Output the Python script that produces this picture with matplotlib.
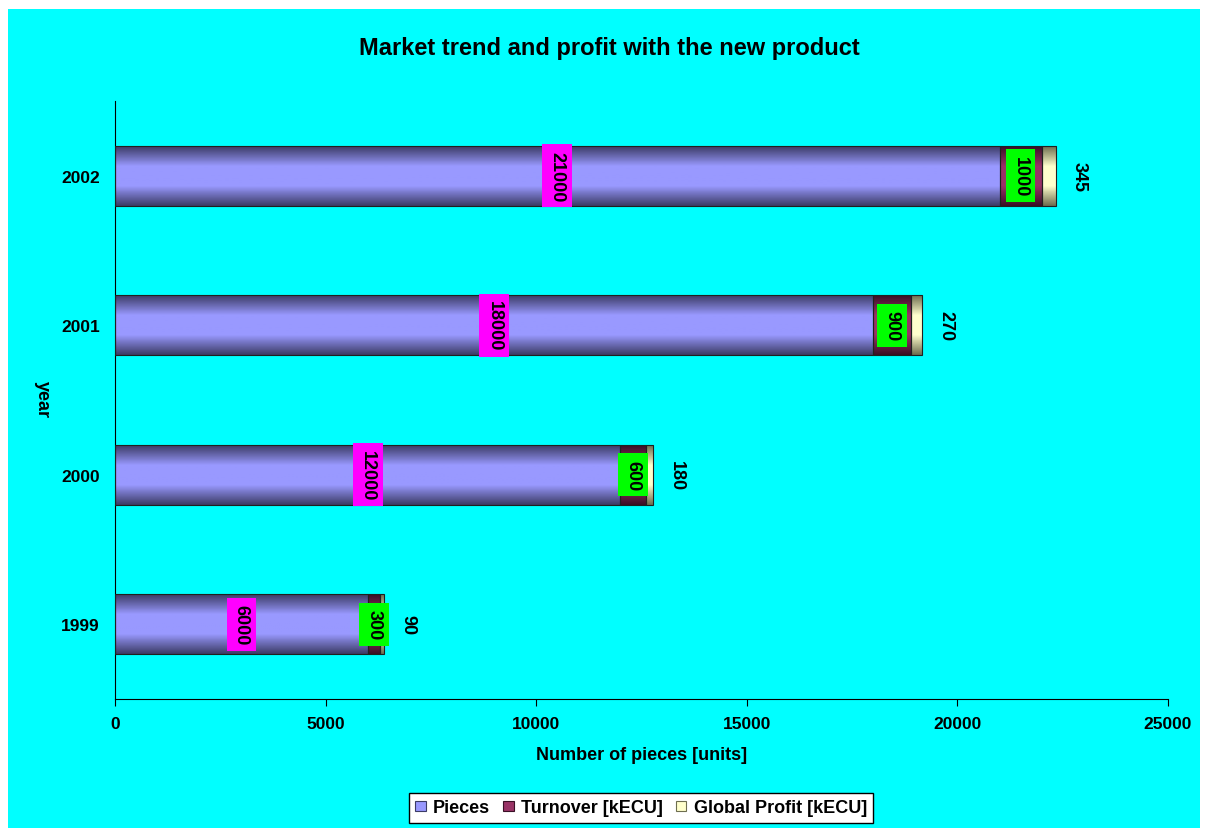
import numpy as np
import matplotlib.pyplot as plt
from matplotlib.colors import LinearSegmentedColormap
from matplotlib.patches import Rectangle

plt.rcParams['font.family'] = ['Liberation Sans', 'DejaVu Sans']

years = ["1999", "2000", "2001", "2002"]
pieces = [6000, 12000, 18000, 21000]
turnover = [300, 600, 900, 1000]
profit = [90, 180, 270, 345]

series = ["Pieces", "Turnover [kECU]", "Global Profit [kECU]"]
colors = ["#9999FF", "#993366", "#FFFFCC"]
dark = ["#3c3c66", "#3a1026", "#6e6e50"]

bar_h = 0.4
cyan = "#00FFFF"

fig = plt.figure(figsize=(12.07, 8.29), dpi=100)
fig.patch.set_facecolor("white")
fig.patches.append(Rectangle((8 / 1207, 0), 1192 / 1207, 819 / 829, transform=fig.transFigure,
                             facecolor=cyan, edgecolor="none", zorder=-10))
ax = fig.add_axes([115 / 1207, 129 / 829, 1053 / 1207, 598 / 829])
ax.set_facecolor(cyan)


def shaded_bar(left, width, y, c_light, c_dark):
    # cylinder-like shading: dark at top/bottom edges, light in the middle
    cmap = LinearSegmentedColormap.from_list("s", [c_dark, c_light, c_light, c_dark])
    grad = np.linspace(0, 1, 64).reshape(-1, 1)
    ax.imshow(grad, cmap=cmap, aspect="auto", interpolation="bilinear",
              extent=(left, left + width, y - bar_h / 2, y + bar_h / 2), zorder=2)
    ax.add_patch(Rectangle((left, y - bar_h / 2), width, bar_h, facecolor="none",
                           edgecolor="#202020", linewidth=0.8, zorder=3))


ypos = np.arange(len(years))
for i, y in enumerate(ypos):
    shaded_bar(0, pieces[i], y, colors[0], dark[0])
    shaded_bar(pieces[i], turnover[i], y, colors[1], dark[1])
    shaded_bar(pieces[i] + turnover[i], profit[i], y, colors[2], dark[2])
    ax.text(pieces[i] / 2, y, str(pieces[i]), rotation=-90, ha="center", va="center",
            fontsize=13, fontweight="bold", zorder=5,
            bbox=dict(boxstyle="square,pad=0.35", facecolor="#FF00FF", edgecolor="none"))
    ax.text(pieces[i] + turnover[i] / 2, y, str(turnover[i]), rotation=-90, ha="center",
            va="center", fontsize=13, fontweight="bold", zorder=5,
            bbox=dict(boxstyle="square,pad=0.35", facecolor="#00FF00", edgecolor="none"))
    ax.text(pieces[i] + turnover[i] + profit[i] + 350, y, str(profit[i]), rotation=-90,
            ha="left", va="center", fontsize=13, fontweight="bold", zorder=5)

ax.set_xlim(0, 25000)
ax.set_ylim(-0.5, len(years) - 0.5)
ax.set_yticks(ypos)
ax.set_yticklabels(years, fontsize=12.5, fontweight="bold")
ax.set_xticks(np.arange(0, 25001, 5000))
ax.set_xticklabels([str(v) for v in range(0, 25001, 5000)], fontsize=12.5, fontweight="bold")
ax.tick_params(axis="x", length=5, pad=7)
ax.tick_params(axis="y", length=0, pad=11)
for s in ["top", "right"]:
    ax.spines[s].set_visible(False)

ax.set_xlabel("Number of pieces [units]", fontsize=13, fontweight="bold", labelpad=11)
fig.text(42 / 1207, 1 - 400 / 829, "year", rotation=-90, ha="center", va="center",
         fontsize=13, fontweight="bold")
fig.text(0.505, 1 - 48 / 829, "Market trend and profit with the new product",
         ha="center", va="center", fontsize=17, fontweight="bold")

handles = [Rectangle((0, 0), 1, 1, facecolor=c, edgecolor=d, linewidth=0.8)
           for c, d in zip(colors, dark)]
leg = fig.legend(handles, series, loc="center", bbox_to_anchor=(641 / 1207, 1 - 809 / 829),
                 ncol=3, frameon=True, fancybox=False, handlelength=0.6, handleheight=0.45,
                 handletextpad=0.4, columnspacing=0.7, borderpad=0.35, framealpha=1,
                 prop=dict(size=13, weight="bold"))
leg.get_frame().set_facecolor("white")
leg.get_frame().set_edgecolor("black")
leg.get_frame().set_linewidth(1.0)

fig.savefig("out.png", dpi=100, facecolor=fig.get_facecolor())
